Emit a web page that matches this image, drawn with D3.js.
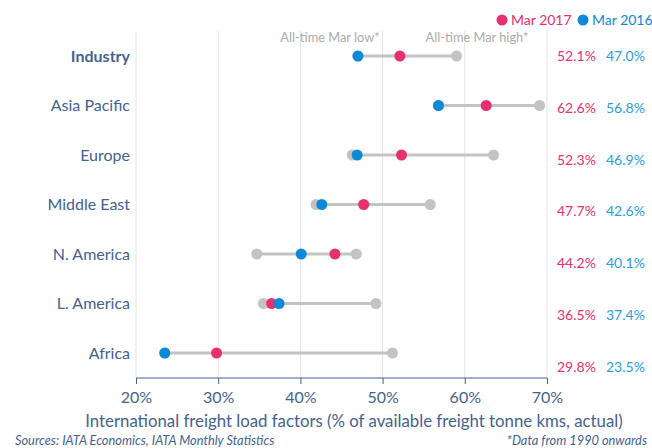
<!DOCTYPE html>
<html>
<head>
<meta charset="utf-8">
<script src="https://d3js.org/d3.v7.min.js"></script>
<style>
  body { margin: 0; background: #fff; }
  svg text { font-family: Lato, "Open Sans", sans-serif; }
</style>
</head>
<body>
<div id="chart"></div>
<script>
// data (load factor, %)
var regions = ["Industry", "Asia Pacific", "Europe", "Middle East", "N. America", "L. America", "Africa"];
var mar2017 = [52.1, 62.6, 52.3, 47.7, 44.2, 36.5, 29.8];
var mar2016 = [47.0, 56.8, 46.9, 42.6, 40.1, 37.4, 23.5];
var lowAll  = [47.0, 56.8, 46.3, 41.9, 34.7, 35.5, 23.5];
var highAll = [59.0, 69.1, 63.5, 55.8, 46.8, 49.2, 51.2];
var xTicks = [20, 30, 40, 50, 60, 70];

var red = "#e8306e", blue = "#0b8bd7", grey = "#c3c3c3", navy = "#44628f";

var W = 652, H = 448;
var svg = d3.select("#chart").append("svg")
    .attr("width", W).attr("height", H);

var x = d3.scaleLinear().domain([20, 70]).range([136, 547]);
var y = d3.scalePoint().domain(regions).range([56, 353]);
var yLab = d3.scalePoint().domain(regions).range([56, 367]);

var rows = regions.map(function(r, i) {
  return {name: r, v17: mar2017[i], v16: mar2016[i], lo: lowAll[i], hi: highAll[i]};
});

// gridlines
svg.append("g").selectAll("line")
  .data(xTicks)
  .enter().append("line")
    .attr("x1", function(d) { return x(d); })
    .attr("x2", function(d) { return x(d); })
    .attr("y1", 31).attr("y2", 378)
    .style("stroke", "#e3e3e3")
    .style("stroke-width", 1);

// x axis
var xAxis = svg.append("g")
  .attr("transform", "translate(0,378)")
  .call(d3.axisBottom(x).tickValues(xTicks).tickSize(6).tickPadding(10)
        .tickFormat(function(d) { return d + "%"; }));
xAxis.select(".domain").style("stroke", navy).attr("d", "M136,0H547");
xAxis.selectAll(".tick line").style("stroke", navy);
xAxis.selectAll(".tick text")
  .style("fill", navy).style("font-size", "16px")
  .attr("dy", "0.55em");

svg.append("text")
  .attr("x", 354).attr("y", 427)
  .style("text-anchor", "middle")
  .style("fill", navy).style("font-size", "16.8px")
  .text("International freight load factors (% of available freight tonne kms, actual)");

// range lines
svg.append("g").selectAll("line")
  .data(rows)
  .enter().append("line")
    .attr("x1", function(d) { return x(Math.min(d.lo, d.v16, d.v17)); })
    .attr("x2", function(d) { return x(Math.max(d.hi, d.v16, d.v17)); })
    .attr("y1", function(d) { return y(d.name); })
    .attr("y2", function(d) { return y(d.name); })
    .style("stroke", grey)
    .style("stroke-width", 3);

function dots(key, col) {
  svg.append("g").selectAll("circle")
    .data(rows)
    .enter().append("circle")
      .attr("cx", function(d) { return x(d[key]); })
      .attr("cy", function(d) { return y(d.name); })
      .attr("r", 5.5)
      .style("fill", col);
}
dots("lo", grey);
dots("hi", grey);
dots("v17", red);
dots("v16", blue);

// region labels
svg.append("g").selectAll("text")
  .data(rows)
  .enter().append("text")
    .attr("x", 130)
    .attr("y", function(d) { return y(d.name); })
    .attr("dy", "0.35em")
    .style("text-anchor", "end")
    .style("fill", navy)
    .style("font-size", "16px")
    .style("font-weight", function(d) { return d.name == "Industry" ? "bold" : "normal"; })
    .text(function(d) { return d.name; });

// value columns
svg.append("g").selectAll("text")
  .data(rows)
  .enter().append("text")
    .attr("x", 557)
    .attr("y", function(d) { return yLab(d.name); })
    .attr("dy", "0.35em")
    .style("fill", red).style("font-size", "14px")
    .text(function(d) { return d.v17.toFixed(1) + "%"; });
svg.append("g").selectAll("text")
  .data(rows)
  .enter().append("text")
    .attr("x", 606)
    .attr("y", function(d) { return yLab(d.name); })
    .attr("dy", "0.35em")
    .style("fill", "#2a9de0").style("font-size", "14px")
    .text(function(d) { return d.v16.toFixed(1) + "%"; });

// annotations
svg.append("text")
  .attr("x", 330).attr("y", 42)
  .style("text-anchor", "middle").style("fill", "#ababab").style("font-size", "12.8px")
  .text("All-time Mar low*");
svg.append("text")
  .attr("x", 477).attr("y", 42)
  .style("text-anchor", "middle").style("fill", "#ababab").style("font-size", "12.8px")
  .text("All-time Mar high*");

// legend
var legend = [{t: "Mar 2017", c: red, x: 502}, {t: "Mar 2016", c: blue, x: 583}];
legend.forEach(function(l) {
  svg.append("circle").attr("cx", l.x).attr("cy", 20).attr("r", 5.5).style("fill", l.c);
  svg.append("text").attr("x", l.x + 9).attr("y", 20).attr("dy", "0.35em")
    .style("fill", l.c).style("font-size", "14px").text(l.t);
});

// footer
svg.append("text")
  .attr("x", 15).attr("y", 445)
  .style("fill", navy).style("font-size", "12.8px").style("font-style", "italic")
  .text("Sources: IATA Economics, IATA Monthly Statistics");
svg.append("text")
  .attr("x", 647).attr("y", 445)
  .style("text-anchor", "end")
  .style("fill", navy).style("font-size", "12.8px").style("font-style", "italic")
  .text("*Data from 1990 onwards");
</script>
</body>
</html>
